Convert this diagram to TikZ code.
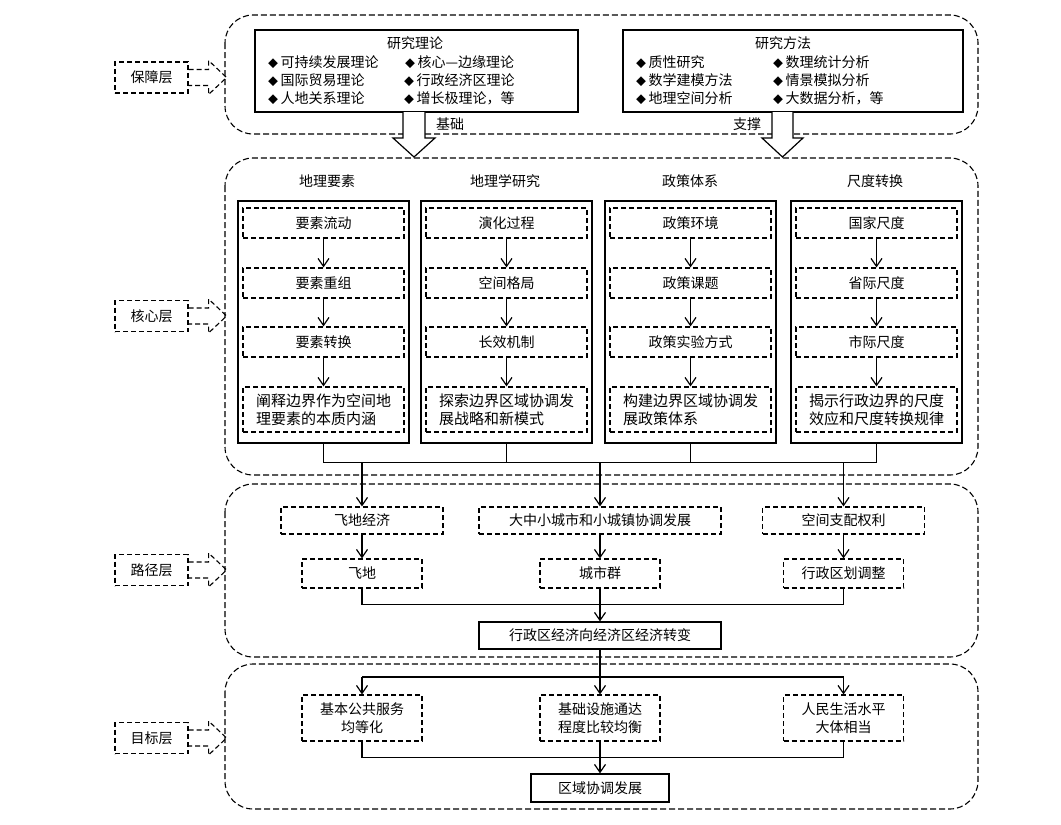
\documentclass[tikz,border=0pt]{standalone}
\usepackage{fontspec}
\setmainfont{Noto Sans CJK SC}
\usetikzlibrary{arrows.meta}
\newcommand{\dia}{\makebox[12.5pt][l]{\fontsize{10pt}{10pt}\selectfont◆}}
\tikzstyle{layer}=[draw,line width=1.1pt,dash pattern=on 6pt off 3pt,rounded corners=28pt]
\tikzstyle{tag}=[draw,line width=1.1pt,dash pattern=on 5pt off 3pt,minimum width=73pt,minimum height=31pt,inner sep=0pt]
\tikzstyle{tagarrow}=[draw,line width=1.1pt,dash pattern=on 5pt off 3pt]
\tikzstyle{dbox}=[draw,line width=1.1pt,dash pattern=on 5pt off 3pt,inner sep=0pt,align=center]
\tikzstyle{sbox}=[draw,line width=1.2pt,inner sep=0pt,align=center]
\tikzstyle{item}=[anchor=west,inner sep=0pt]
\tikzstyle{hollow}=[draw,line width=1.2pt,fill=white]
\tikzstyle{flow}=[draw,line width=1.2pt,-{Straight Barb[length=8pt,width=11pt]}]
\tikzstyle{link}=[draw,line width=1.2pt]
\begin{document}
\begin{tikzpicture}[x=1pt,y=-1pt,font=\fontsize{14pt}{18pt}\selectfont]
        \useasboundingbox[fill=white] (0,0) rectangle (1061,825);
        % layers
        \draw[layer] (225,15) rectangle (978,134);
        \draw[layer] (225,158) rectangle (978,475);
        \draw[layer] (225,484) rectangle (978,657);
        \draw[layer] (225,664) rectangle (978,809);
        \node[tag] (tag1) at (151.5,77.5) {保障层};
        \node[tag] (tag2) at (151.5,316) {核心层};
        \node[tag] (tag3) at (151.5,570) {路径层};
        \node[tag] (tag4) at (151.5,738) {目标层};
        \draw[tagarrow] (tag1.east) ++(0,-8) -- ++(20,0) -- ++(0,-9) -- ++(18,17) -- ++(-18,17) -- ++(0,-9) -- ++(-20,0);
        \draw[tagarrow] (tag2.east) ++(0,-8) -- ++(20,0) -- ++(0,-9) -- ++(18,17) -- ++(-18,17) -- ++(0,-9) -- ++(-20,0);
        \draw[tagarrow] (tag3.east) ++(0,-8) -- ++(20,0) -- ++(0,-9) -- ++(18,17) -- ++(-18,17) -- ++(0,-9) -- ++(-20,0);
        \draw[tagarrow] (tag4.east) ++(0,-8) -- ++(20,0) -- ++(0,-9) -- ++(18,17) -- ++(-18,17) -- ++(0,-9) -- ++(-20,0);

        % support layer
        \node[sbox,minimum width=323pt,minimum height=82pt] (theory) at (416.5,71) {};
        \node[sbox,minimum width=340pt,minimum height=82pt] (method) at (793,71) {};
        \node (thtitle) at (415,43) {研究理论};
        \node[item] (th1) at (268,62) {\dia 可持续发展理论};
        \node[item] (th2) at (268,80) {\dia 国际贸易理论};
        \node[item] (th3) at (268,98) {\dia 人地关系理论};
        \node[item] (th4) at (405,62) {\dia 核心—边缘理论};
        \node[item] (th5) at (404,80) {\dia 行政经济区理论};
        \node[item] (th6) at (404,98) {\dia 增长极理论，等};
        \node (metitle) at (783,43) {研究方法};
        \node[item] (me1) at (636,62) {\dia 质性研究};
        \node[item] (me2) at (636,80) {\dia 数学建模方法};
        \node[item] (me3) at (636,98) {\dia 地理空间分析};
        \node[item] (me4) at (773,62) {\dia 数理统计分析};
        \node[item] (me5) at (773,80) {\dia 情景模拟分析};
        \node[item] (me6) at (773,98) {\dia 大数据分析，等};
        \coordinate (base) at (414,112);
        \coordinate (prop) at (782.5,112);
        \draw[hollow] (base) ++(-11,0) -- ++(0,26) -- ++(-10,0) -- ++(21,19) -- ++(21,-19) -- ++(-10,0) -- ++(0,-26);
        \draw[hollow] (prop) ++(-10.5,0) -- ++(0,26) -- ++(-10,0) -- ++(20.5,19) -- ++(20.5,-19) -- ++(-10,0) -- ++(0,-26);
        \node (jichu) at (450,124) {基础};
        \node (zhicheng) at (747,124) {支撑};

        % core layer
        \node (h1) at (327,181) {地理要素};
        \node (h2) at (505,181) {地理学研究};
        \node (h3) at (690,181) {政策体系};
        \node (h4) at (875,181) {尺度转换};
        \node[sbox,minimum width=171pt,minimum height=242pt] (col1) at (323.5,322) {};
        \node[sbox,minimum width=171pt,minimum height=242pt] (col2) at (506.5,322) {};
        \node[sbox,minimum width=171pt,minimum height=242pt] (col3) at (690.5,322) {};
        \node[sbox,minimum width=171pt,minimum height=242pt] (col4) at (876.5,322) {};
        \node[dbox,minimum width=161pt,minimum height=30pt] (a1) at (323.5,223) {要素流动};
        \node[dbox,minimum width=161pt,minimum height=30pt] (a2) at (323.5,283) {要素重组};
        \node[dbox,minimum width=161pt,minimum height=30pt] (a3) at (323.5,342) {要素转换};
        \node[dbox,minimum width=161pt,minimum height=45pt,align=left,font=\fontsize{15pt}{18pt}\selectfont] (a4) at (323.5,409.5) {阐释边界作为空间地\\理要素的本质内涵};
        \node[dbox,minimum width=161pt,minimum height=30pt] (b1) at (506.5,223) {演化过程};
        \node[dbox,minimum width=161pt,minimum height=30pt] (b2) at (506.5,283) {空间格局};
        \node[dbox,minimum width=161pt,minimum height=30pt] (b3) at (506.5,342) {长效机制};
        \node[dbox,minimum width=161pt,minimum height=45pt,align=left,font=\fontsize{15pt}{18pt}\selectfont] (b4) at (506.5,409.5) {探索边界区域协调发\\展战略和新模式\phantom{两字}};
        \node[dbox,minimum width=161pt,minimum height=30pt] (c1) at (690.5,223) {政策环境};
        \node[dbox,minimum width=161pt,minimum height=30pt] (c2) at (690.5,283) {政策课题};
        \node[dbox,minimum width=161pt,minimum height=30pt] (c3) at (690.5,342) {政策实验方式};
        \node[dbox,minimum width=161pt,minimum height=45pt,align=left,font=\fontsize{15pt}{18pt}\selectfont] (c4) at (690.5,409.5) {构建边界区域协调发\\展政策体系\phantom{四个字符}};
        \node[dbox,minimum width=161pt,minimum height=30pt] (d1) at (876.5,223) {国家尺度};
        \node[dbox,minimum width=161pt,minimum height=30pt] (d2) at (876.5,283) {省际尺度};
        \node[dbox,minimum width=161pt,minimum height=30pt] (d3) at (876.5,342) {市际尺度};
        \node[dbox,minimum width=161pt,minimum height=45pt,align=left,font=\fontsize{15pt}{18pt}\selectfont] (d4) at (876.5,409.5) {揭示行政边界的尺度\\效应和尺度转换规律};
        \draw[flow] (a1) -- (a2);
        \draw[flow] (a2) -- (a3);
        \draw[flow] (a3) -- (a4);
        \draw[flow] (b1) -- (b2);
        \draw[flow] (b2) -- (b3);
        \draw[flow] (b3) -- (b4);
        \draw[flow] (c1) -- (c2);
        \draw[flow] (c2) -- (c3);
        \draw[flow] (c3) -- (c4);
        \draw[flow] (d1) -- (d2);
        \draw[flow] (d2) -- (d3);
        \draw[flow] (d3) -- (d4);
        \draw[link] (col1.south) -- ++(0,19) -| (col4.south);
        \draw[link] (col2.south) -- ++(0,19);
        \draw[link] (col3.south) -- ++(0,19);

        % path layer
        \node[dbox,minimum width=162pt,minimum height=27pt] (p1) at (362,520.5) {飞地经济};
        \node[dbox,minimum width=242pt,minimum height=27pt] (p2) at (600,520.5) {大中小城市和小城镇协调发展};
        \node[dbox,minimum width=162pt,minimum height=27pt] (p3) at (843.5,520.5) {空间支配权利};
        \node[dbox,minimum width=120pt,minimum height=29pt] (q1) at (362,573.5) {飞地};
        \node[dbox,minimum width=120pt,minimum height=29pt] (q2) at (600,573.5) {城市群};
        \node[dbox,minimum width=120pt,minimum height=29pt] (q3) at (843.5,573.5) {行政区划调整};
        \node[sbox,minimum width=242pt,minimum height=27pt] (zb) at (600,635.5) {行政区经济向经济区经济转变};
        \coordinate (bus1) at (0,462);
        \draw[flow] (bus1 -| p1) -- (p1);
        \draw[flow] (bus1 -| p2) -- (p2);
        \draw[flow] (bus1 -| p3) -- (p3);
        \draw[flow] (p1) -- (q1);
        \draw[flow] (p2) -- (q2);
        \draw[flow] (p3) -- (q3);
        \draw[link] (q1.south) -- ++(0,16) -| (q3.south);
        \draw[flow] (q2) -- (zb);

        % goal layer
        \node[dbox,minimum width=120pt,minimum height=46pt] (g1) at (362,718) {基本公共服务\\均等化};
        \node[dbox,minimum width=120pt,minimum height=46pt] (g2) at (600,718) {基础设施通达\\程度比较均衡};
        \node[dbox,minimum width=120pt,minimum height=46pt] (g3) at (843.5,718) {人民生活水平\\大体相当};
        \node[sbox,minimum width=138pt,minimum height=28pt] (qy) at (600,788) {区域协调发展};
        \coordinate (bus2) at (0,677);
        \draw[flow] (zb) -- (g2);
        \draw[link] (bus2 -| g1) -- (bus2 -| g3);
        \draw[flow] (bus2 -| g1) -- (g1);
        \draw[flow] (bus2 -| g3) -- (g3);
        \draw[link] (g1.south) -- ++(0,16) -| (g3.south);
        \draw[flow] (g2) -- (qy);
\end{tikzpicture}
\end{document}
